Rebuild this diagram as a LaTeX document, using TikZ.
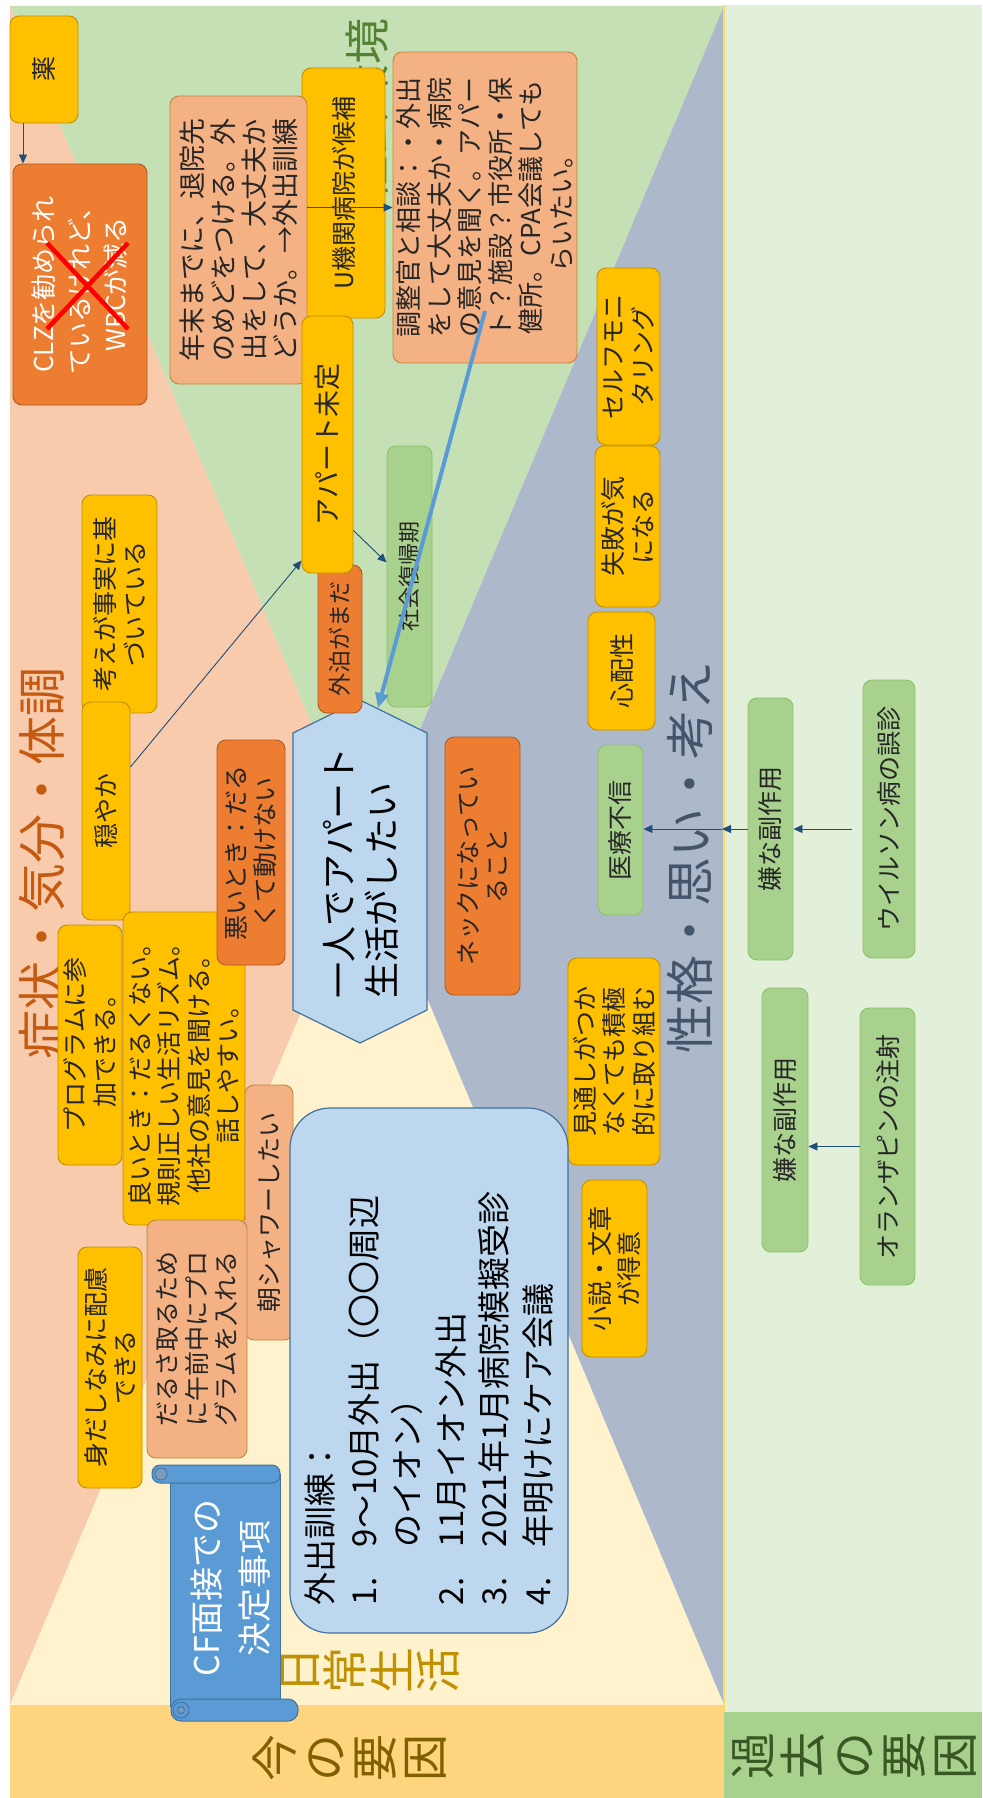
\documentclass[tikz,border=0pt]{standalone}
\usepackage{fontspec}
\setmainfont{Noto Sans CJK JP}
\usetikzlibrary{arrows.meta,calc}
\definecolor{bgSal}{HTML}{F8CBAD}
\definecolor{bgGrn}{HTML}{C5E0B4}
\definecolor{bgBlu}{HTML}{ADB9CA}
\definecolor{bgCrm}{HTML}{FFF2CC}
\definecolor{bgPale}{HTML}{E2F0D9}
\definecolor{bandL}{HTML}{FFD47F}
\definecolor{bandR}{HTML}{A9D18E}
\definecolor{sepY}{HTML}{FFD966}
\definecolor{cYel}{HTML}{FFC000}
\definecolor{cYelD}{HTML}{BF9000}
\definecolor{cOra}{HTML}{ED7D31}
\definecolor{cOraD}{HTML}{AE5A21}
\definecolor{cSal}{HTML}{F4B183}
\definecolor{cSalD}{HTML}{C0873A}
\definecolor{cGrn}{HTML}{A9D18E}
\definecolor{cGrnD}{HTML}{8CC06C}
\definecolor{cBlu}{HTML}{BDD7EE}
\definecolor{cBluD}{HTML}{41719C}
\definecolor{cScr}{HTML}{5B9BD5}
\definecolor{cScrD}{HTML}{41719C}
\definecolor{cArr}{HTML}{1F4E79}
\definecolor{tSal}{HTML}{C55A11}
\definecolor{tPers}{HTML}{44546A}
\definecolor{tGold}{HTML}{BF9000}
\definecolor{tNow}{HTML}{7F6000}
\definecolor{tPast}{HTML}{385723}
\definecolor{tGrn}{HTML}{548235}
\definecolor{txt}{HTML}{262626}
\tikzset{
  box/.style={rotate=90, rounded corners=9pt, draw, line width=0.9pt, inner sep=1pt, align=center, text=txt, font=\fontsize{25}{29.5}\selectfont},
  ybox/.style={box, fill=cYel, draw=cYelD},
  obox/.style={box, fill=cOra, draw=cOraD},
  sbox/.style={box, fill=cSal, draw=cSalD},
  gbox/.style={box, fill=cGrn, draw=cGrnD},
  ttl/.style={rotate=90, inner sep=0pt},
  arr/.style={draw=cArr, line width=0.9pt, -{Triangle[length=9pt,width=8pt]}},
  thickarr/.style={draw=cScr, line width=4pt, -{Triangle[length=15pt,width=13pt]}},
}
\newcommand{\PBox}[7]{%
  \node[#1, minimum width={(#6)-(#5)}, minimum height={(#4)-(#3)}] (#2) at ({((#3)+(#4))/2},{((#5)+(#6))/2}) {#7};}
\begin{document}
\begin{tikzpicture}[x=1pt,y=-1pt]
\useasboundingbox (0,0) rectangle (982,1798);
\fill[white] (0,0) rectangle (982,1798);
% background triangles
\coordinate (TL) at (10,6);
\coordinate (TR) at (724,6);
\coordinate (BR) at (724,1705);
\coordinate (BL) at (10,1705);
\coordinate (C) at (367,855.5);
\fill[bgSal] (TL) -- (C) -- (BL) -- cycle;
\fill[bgGrn] (TL) -- (TR) -- (C) -- cycle;
\fill[bgBlu] (TR) -- (BR) -- (C) -- cycle;
\fill[bgCrm] (BL) -- (BR) -- (C) -- cycle;
\fill[bgPale] (724,5) rectangle (982,1712);
\fill[bandL] (10,1705) rectangle (724,1798);
\fill[bandR] (724,1712) rectangle (982,1798);
\draw[sepY, line width=2.5pt] (724,5) -- (724,1712);
% section titles
\node[ttl, text=tSal, font=\fontsize{49}{49}\selectfont] (tSym) at (42,863) {症状・気分・体調};
\node[ttl, text=tPers, font=\fontsize{49}{49}\selectfont] (tPer) at (690,857) {性格・思い・考え};
\node[ttl, text=tGrn, font=\fontsize{46}{46}\selectfont, anchor=east] (tEnv) at (367,18) {社会環境};
\node[ttl, text=tGold, align=center, font=\fontsize{46}{46.5}\selectfont] (tDaily) at (370,1670) {日\\常\\生\\活};
\node[ttl, text=tNow, align=center, font=\fontsize{47}{50}\selectfont] (tNow) at (350,1758) {今\\の\\要\\因};
\node[ttl, text=tPast, align=center, font=\fontsize{47}{50.5}\selectfont] (tPast) at (854,1756) {過\\去\\の\\要\\因};
% hexagon
\draw[fill=cBlu, draw=cBluD, line width=1.2pt] (360,700) -- (427,733) -- (427,1010) -- (360,1043) -- (293,1010) -- (293,733) -- cycle;
\node[rotate=90, align=left, inner sep=0pt, text=black, font=\fontsize{36}{43}\selectfont] (hex) at (361,873) {一人でアパート\\生活がしたい};
\coordinate (hextip) at (378,708);
% boxes
\PBox{ybox}{kusuri}{10}{78}{16}{123}{薬}
\PBox{obox, text=white, font=\fontsize{26}{36}\selectfont}{clz}{13}{147}{164}{405}{CLZを勧められ\\ているけれど、\\WBCが減る}
\PBox{ybox}{ukikan}{302}{385}{68}{318}{U機関病院が候補}
\PBox{sbox, font=\fontsize{27}{31}\selectfont}{nenmatsu}{170}{307}{96}{384}{年末までに、退院先\\のめどをつける。外\\出をして、大丈夫か\\どうか。→外出訓練}
\PBox{obox, font=\fontsize{23}{27}\selectfont}{gaihaku}{318}{362}{565}{713}{外泊がまだ}
\PBox{ybox, font=\fontsize{27}{31}\selectfont}{apart}{302}{353}{316}{573}{アパート未定}
\PBox{sbox, font=\fontsize{26}{30.5}\selectfont}{chosei}{393}{577}{52}{363}{調整官と相談：・外出\\をして大丈夫か・病院\\の意見を聞く。アパー\\ト？施設？市役所・保\\健所。CPA会議しても\\らいたい。}
\PBox{gbox, font=\fontsize{22}{26}\selectfont}{shakai}{387}{432}{446}{707}{社会復帰期}
\PBox{ybox}{kangae}{82}{157}{495}{713}{考えが事実に基\\づいている}
\PBox{ybox}{odayaka}{82}{130}{702}{920}{穏やか}
\PBox{ybox}{prog}{58}{122}{925}{1165}{プログラムに参\\加できる。}
\PBox{ybox}{yoi}{123}{245}{912}{1225}{良いとき：だるくない。\\規則正しい生活リズム。\\他社の意見を聞ける。\\話しやすい。}
\PBox{obox}{warui}{217}{285}{740}{965}{悪いとき：だる\\くて動けない}
\PBox{sbox}{asa}{245}{293}{1085}{1340}{朝シャワーしたい}
\PBox{sbox}{darusa}{147}{247}{1220}{1458}{だるさ取るため\\に午前中にプロ\\グラムを入れる}
\PBox{ybox}{midashi}{78}{142}{1247}{1488}{身だしなみに配慮\\できる}
\PBox{obox}{neck}{445}{520}{737}{995}{ネックになってい\\ること}
\PBox{ybox}{mitoshi}{568}{660}{958}{1165}{見通しがつか\\なくても積極\\的に取り組む}
\PBox{ybox}{shosetsu}{582}{647}{1180}{1357}{小説・文章\\が得意}
\PBox{ybox}{self}{597}{660}{268}{445}{セルフモニ\\タリング}
\PBox{ybox}{shippai}{595}{660}{446}{607}{失敗が気\\になる}
\PBox{ybox}{shinpai}{588}{655}{612}{730}{心配性}
\PBox{gbox}{iryo}{598}{643}{745}{915}{医療不信}
\PBox{gbox}{iya1}{748}{793}{698}{960}{嫌な副作用}
\PBox{gbox}{wilson}{863}{915}{680}{958}{ウイルソン病の誤診}
\PBox{gbox}{iya2}{762}{808}{988}{1252}{嫌な副作用}
\PBox{gbox}{olanz}{860}{915}{1008}{1285}{オランザピンの注射}
% plan box
\node[rotate=90, draw=cBluD, fill=cBlu, line width=1.2pt, rounded corners=40pt, minimum width=525, minimum height=278, text width=469, align=left, inner sep=0pt, text=black, font=\fontsize{33}{43.5}\selectfont] (plan) at (429,1370.5) {外出訓練：\\
\makebox[58pt][l]{1.}9～10月外出（〇〇周辺\\
\hspace*{58pt}のイオン）\\
\makebox[58pt][l]{2.}11月イオン外出\\
\makebox[58pt][l]{3.}2021年1月病院模擬受診\\
\makebox[58pt][l]{4.}年明けにケア会議};
% scroll
\draw[fill=cScr, draw=cScrD, line width=1pt] (170,1474) rectangle (280,1706);
\draw[fill=cScr, draw=cScrD, line width=1pt, rounded corners=8pt] (152,1465) rectangle (280,1483);
\draw[fill=cScrD!70, draw=cScrD, line width=0.8pt] (161,1474) circle [radius=6pt];
\draw[fill=cScr, draw=cScrD, line width=1pt, rounded corners=10pt] (171,1699) rectangle (298,1721);
\draw[fill=cScr, draw=cScrD, line width=0.8pt] (181,1710) circle [radius=8pt];
\draw[fill=cScrD!70, draw=cScrD, line width=0.8pt] (181,1710) circle [radius=3.5pt];
\node[rotate=90, align=center, text=white, font=\fontsize{34}{48}\selectfont] (cf) at (231,1588) {CF面接での\\決定事項};
% red cross
\draw[red, line width=4.5pt] (47,243) -- (128,329) (47,329) -- (128,243);
% connectors
\draw[arr] ($(kusuri.west)+(-21,0)$) -- ($(kusuri.west |- clz.east)+(-21,0)$);
\draw[arr] (chosei.north -| nenmatsu.south) -- (chosei.north);
\draw[arr] ($(apart.south)+(0,86)$) -- ($(shakai.north)+(0,-14)$);
\draw[arr] ($(odayaka.south)+(0,-44)$) -- ($(apart.north)+(0,116)$);
\draw[arr] ($(iya1.south -| wilson.north)+(-11,0)$) -- (iya1.south);
\coordinate (bnd) at (722,829);
\draw[arr] (iya1.north) -- (bnd);
\draw[arr] (bnd) -- (bnd -| iryo.south);
\draw[arr] (olanz.north) -- (olanz.north -| iya2.south);
\coordinate (bstart) at (485,311);
\draw[thickarr] (bstart) -- (hextip);
\end{tikzpicture}
\end{document}
